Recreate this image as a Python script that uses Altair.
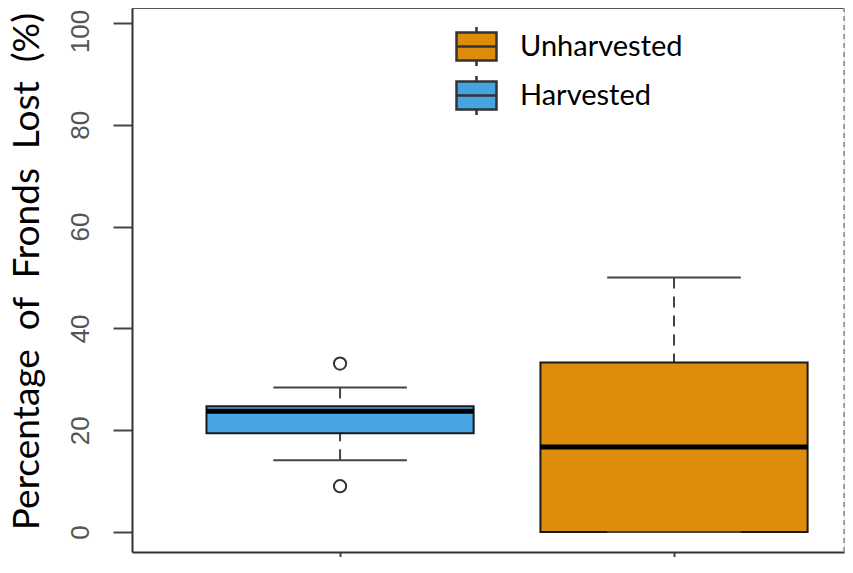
import altair as alt
import pandas as pd

# ---- data ----
groups = ["Harvested", "Unharvested"]
positions = [1, 2]
lower_whisker = [14.1, 0.0]
q1 = [19.4, 0.0]
median = [23.7, 16.7]
q3 = [24.7, 33.3]
upper_whisker = [28.4, 50.0]

outlier_groups = ["Harvested", "Harvested"]
outlier_positions = [1, 1]
outlier_values = [33.1, 9.0]

y_ticks = [0, 20, 40, 60, 80, 100]
x_ticks = [1, 2]
legend_order = ["Unharvested", "Harvested"]
colors = ["#DE8C0B", "#47A3E1"]

# axis extents
x_min, x_max = 0.377, 2.509
y_min, y_max = -3.93, 102.95

box = pd.DataFrame({
    "group": groups, "pos": positions, "lw": lower_whisker, "q1": q1,
    "med": median, "q3": q3, "uw": upper_whisker,
})
outl = pd.DataFrame({"group": outlier_groups, "pos": outlier_positions, "val": outlier_values})

xs = alt.Scale(domain=[x_min, x_max], nice=False, zero=False)
ys = alt.Scale(domain=[y_min, y_max], nice=False, zero=False)

base = alt.Chart(box).transform_calculate(
    bx1="datum.pos - 0.4", bx2="datum.pos + 0.4",
    cx1="datum.pos - 0.2", cx2="datum.pos + 0.2",
)

title_text = "Percentage\u00a0 of\u00a0 Fronds\u00a0 Lost\u00a0 (%)"

x_axis = alt.Axis(values=x_ticks, labels=False, title=None, grid=False,
                  tickSize=20, tickWidth=2, tickColor="#444",
                  domainColor="#333", domainWidth=2)
y_axis = alt.Axis(values=y_ticks, grid=False, title=title_text,
                  tickSize=19, tickWidth=2, tickColor="#444",
                  domainColor="#333", domainWidth=2,
                  labelAngle=270, labelAlign="center", labelBaseline="bottom",
                  labelFont="Liberation Sans", labelFontSize=26, labelColor="#555",
                  labelPadding=20,
                  labelOffset={"condition": {"test": "datum.value === 100", "value": 8}, "value": 0},
                  titleFont="Lato", titleFontSize=37, titleFontWeight="normal",
                  titleColor="#000", titleAngle=270, titleAlign="center",
                  titleBaseline="alphabetic", titleX=-94, titleY=263)

whisk_lo = base.mark_rule(strokeDash=[11, 8], strokeWidth=2, color="#444").encode(
    x=alt.X("pos:Q", scale=xs, axis=x_axis),
    y=alt.Y("lw:Q", scale=ys, axis=y_axis),
    y2="q1:Q",
)
whisk_hi = base.mark_rule(strokeDash=[11, 8], strokeWidth=2, color="#444").encode(
    x=alt.X("pos:Q", scale=xs), y=alt.Y("uw:Q", scale=ys), y2="q3:Q",
)
boxes = base.mark_rect(stroke="#1a1a1a", strokeWidth=2, opacity=1).encode(
    x=alt.X("bx1:Q", scale=xs), x2="bx2:Q",
    y=alt.Y("q1:Q", scale=ys), y2="q3:Q",
    color=alt.Color("group:N",
                    scale=alt.Scale(domain=legend_order, range=colors),
                    legend=alt.Legend(
                        title=None, orient="none", legendX=323, legendY=17,
                        symbolType="M-1,-0.7H1V0.7H-1Z M-1,0H1 M0,-0.7V-0.97 M0,0.7V0.97",
                        symbolSize=1600, symbolStrokeColor="#333",
                        symbolStrokeWidth=2.5, symbolOpacity=1,
                        labelFont="Lato", labelFontSize=29, labelColor="#000",
                        labelOffset=22, rowPadding=0, padding=0,
                        labelLimit=400)),
)
medians = base.mark_rule(strokeWidth=5, color="#000").encode(
    x=alt.X("bx1:Q", scale=xs), x2="bx2:Q", y=alt.Y("med:Q", scale=ys),
)
caps_lo = base.mark_rule(strokeWidth=2, color="#444").encode(
    x=alt.X("cx1:Q", scale=xs), x2="cx2:Q", y=alt.Y("lw:Q", scale=ys),
)
caps_hi = base.mark_rule(strokeWidth=2, color="#444").encode(
    x=alt.X("cx1:Q", scale=xs), x2="cx2:Q", y=alt.Y("uw:Q", scale=ys),
)
points = alt.Chart(outl).mark_point(shape="circle", size=150, filled=False,
                                    stroke="#333", strokeWidth=2, opacity=1).encode(
    x=alt.X("pos:Q", scale=xs), y=alt.Y("val:Q", scale=ys),
)

frame = pd.DataFrame({"xmin": [x_min], "xmax": [x_max], "ymin": [y_min], "ymax": [y_max]})
top_line = alt.Chart(frame).mark_rule(strokeWidth=2, color="#555").encode(
    x=alt.X("xmin:Q", scale=xs), x2="xmax:Q", y=alt.Y("ymax:Q", scale=ys),
)
right_line = alt.Chart(frame).mark_rule(strokeWidth=1.5, color="#888",
                                        strokeDash=[5, 4]).encode(
    x=alt.X("xmax:Q", scale=xs), y=alt.Y("ymin:Q", scale=ys), y2="ymax:Q",
)

chart = alt.layer(
    whisk_lo, whisk_hi, boxes, medians, caps_lo, caps_hi, points, top_line, right_line
).properties(
    width=712, height=544,
    autosize=alt.AutoSizeParams(type="none"),
    padding={"left": 124, "top": 0, "right": 1, "bottom": 5},
).configure_view(stroke=None).configure(background="white")

chart.save("out.html", embed_options={"renderer": "svg", "actions": False})
